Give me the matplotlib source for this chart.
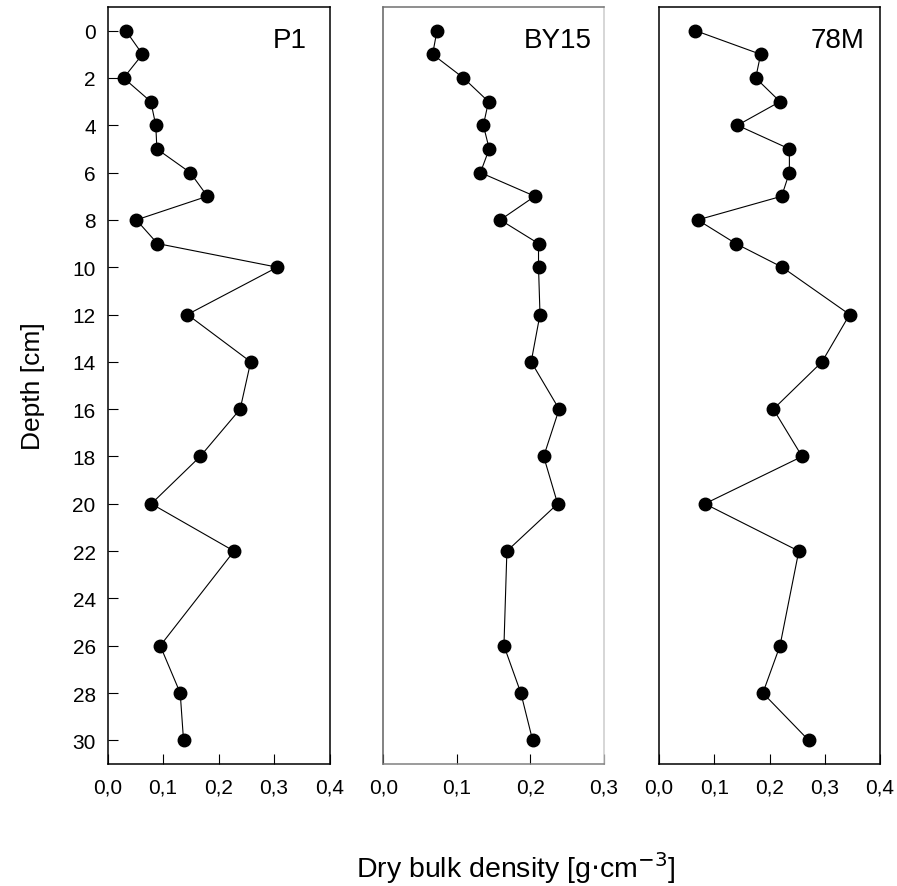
import matplotlib
matplotlib.use("Agg")
import matplotlib.pyplot as plt
from matplotlib.ticker import FuncFormatter

plt.rcParams['font.family'] = ['Liberation Sans', 'DejaVu Sans']

# sampling depths (cm), shared by all three cores
depth = [0, 1, 2, 3, 4, 5, 6, 7, 8, 9, 10, 12, 14, 16, 18, 20, 22, 26, 28, 30]

# dry bulk density (g/cm3) per core
p1 = [0.033, 0.063, 0.029, 0.078, 0.087, 0.089, 0.149, 0.180, 0.052, 0.090,
      0.306, 0.144, 0.258, 0.239, 0.167, 0.079, 0.228, 0.095, 0.131, 0.137]
by15 = [0.073, 0.067, 0.109, 0.143, 0.136, 0.144, 0.132, 0.206, 0.159, 0.211,
        0.211, 0.213, 0.201, 0.239, 0.218, 0.237, 0.168, 0.164, 0.187, 0.203]
m78 = [0.066, 0.184, 0.175, 0.219, 0.142, 0.236, 0.236, 0.222, 0.070, 0.139,
       0.223, 0.345, 0.295, 0.207, 0.259, 0.083, 0.253, 0.219, 0.188, 0.271]

names = ['P1', 'BY15', '78M']
series = [p1, by15, m78]
xmax = [0.4, 0.3, 0.4]
xticks = [[0, 0.1, 0.2, 0.3, 0.4], [0, 0.1, 0.2, 0.3], [0, 0.1, 0.2, 0.3, 0.4]]
yticks = list(range(0, 31, 2))

W, H = 897, 887
fig = plt.figure(figsize=(W / 100, H / 100), dpi=100)

# panel boxes in pixels: left, right
boxes = [(107.5, 329.5), (383.3, 604.0), (659.0, 880.0)]
top_px, bot_px = 8, 765
label_off = [22.5, 12, 16]

comma = FuncFormatter(lambda v, pos: ('%.1f' % v).replace('.', ','))

for i, (name, vals) in enumerate(zip(names, series)):
    l, r = boxes[i]
    ax = fig.add_axes([l / W, 1 - bot_px / H, (r - l) / W, (bot_px - top_px) / H])
    ax.plot(vals, depth, color='black', lw=0.8, marker='o', ms=9,
            markerfacecolor='black', markeredgecolor='black')
    ax.set_xlim(0, xmax[i])
    ax.set_ylim(31, -1)
    ax.set_xticks(xticks[i])
    ax.xaxis.set_major_formatter(comma)
    ax.tick_params(axis='both', direction='in', length=7.5, width=0.8,
                   labelsize=15)
    ax.tick_params(axis='x', pad=10)
    ax.tick_params(axis='y', pad=8.5)
    if i == 0:
        ax.set_yticks(yticks)
        ax.set_ylabel('Depth [cm]', fontsize=19, labelpad=20)
    else:
        ax.set_yticks([])
    for s in ax.spines.values():
        s.set_linewidth(1.1)
    if i == 1:
        ax.spines['left'].set_color('#606060')
        ax.spines['top'].set_color('#707070')
        ax.spines['right'].set_color('#cccccc')
        ax.spines['bottom'].set_color('#808080')
    ax.text(1 - label_off[i] / (r - l), 0.956, name, transform=ax.transAxes,
            ha='right', va='center', fontsize=20)

fig.text(516 / W, 1 - 878 / H, 'Dry bulk density [g$\\cdot$cm$^{-3}$]',
         ha='center', va='baseline', fontsize=20.5)

fig.savefig('out.png', dpi=100)
